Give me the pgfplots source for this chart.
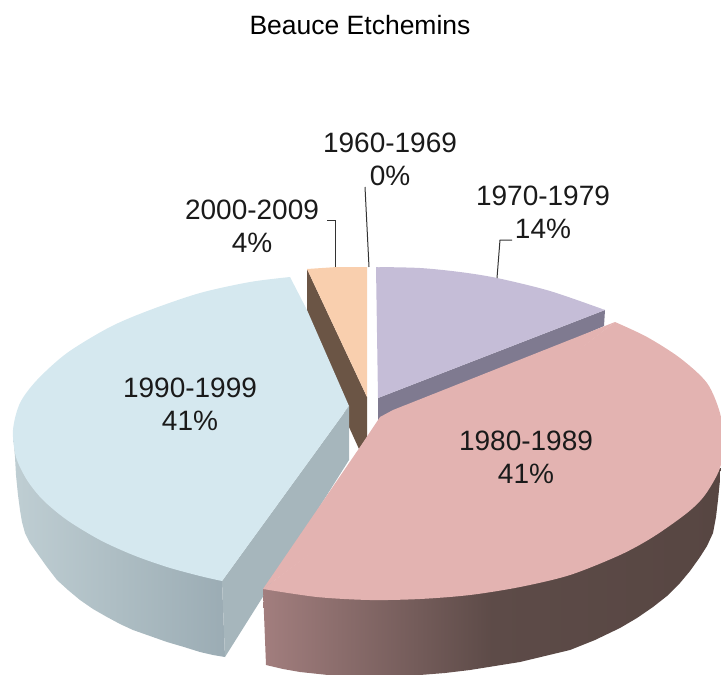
\documentclass[border=0pt]{standalone}
\usepackage{pgfplots}
\pgfplotsset{compat=1.18}
\usepackage{fontspec}
\setmainfont{Liberation Sans}
\definecolor{ptop}{HTML}{C5BDD7}
\definecolor{pside}{HTML}{7F7A90}
\definecolor{otop}{HTML}{F9CFAE}
\definecolor{oside}{HTML}{6B5545}
\definecolor{btop}{HTML}{D5E8EF}
\definecolor{bin}{HTML}{A6B6BC}
\definecolor{rtop}{HTML}{E3B3B1}
\definecolor{txt}{HTML}{1A1A1A}
\definecolor{BSa}{HTML}{BFCED3}
\definecolor{BSm}{HTML}{ADBDC3}
\definecolor{BSb}{HTML}{9BACB4}
\definecolor{RSa}{HTML}{A27E7E}
\definecolor{RSm}{HTML}{5D4B48}
\definecolor{RSb}{HTML}{574642}
\newcommand{\lab}{\fontsize{28}{33}\selectfont}
\begin{document}
\begin{tikzpicture}
\useasboundingbox (0,0) rectangle (721pt,675pt);
\begin{axis}[at={(0,0)},anchor=south west,scale only axis,width=721pt,height=675pt,
  xmin=0,xmax=721,ymin=0,ymax=675,y dir=reverse,hide axis,clip=true,
  every axis plot/.append style={line width=0pt,draw=none}]
% 1970-1979 side and top
\addplot[fill=pside] coordinates {(378,398)(605,310)(604,326)(378,425)} -- cycle;
\addplot[fill=ptop] coordinates {(378,398)(376,267)(490,283)(605,310)} -- cycle;
\addplot[fill=ptop,smooth] coordinates {(376,267)(420,268)(460,272)(497,278)(550,291)(605,310)};
% 2000-2009 side and top
\addplot[fill=oside] coordinates {(307,269)(367,397)(367,437)(359,449)(349,427)(307,312)} -- cycle;
\addplot[fill=otop] coordinates {(307,269)(337,267)(367,267)(367,397)} -- cycle;
% 1990-1999 side and top
\addplot[left color=BSa,right color=BSb,middle color=BSm] coordinates {(13,433)(14,445)(15,457)(16,475)(18,495)(20,510)(22,522)(25,533)(30,543)(37,553)(47,567)(57,580)(68,590)(80,600)(93,609)(107,617)(120,624)(133,630)(150,636)(167,642)(184,647)(200,652)(213,655)(225,657)(222,581)} -- cycle;
\addplot[fill=bin] coordinates {(222,581)(349,406)(349,460)(225,657)} -- cycle;
\addplot[fill=btop] coordinates {(290,277)(307,310)(349,406)(222,581)(150,430)} -- cycle;
\addplot[fill=btop,smooth] coordinates {(290,277)(250,282)(200,293)(150,310)(110,327)(67,353)(37,380)(20,403)(13,430)(16,457)(27,480)(43,500)(67,520)(100,540)(133,555)(167,567)(200,576)(222,581)};
% 1980-1989 side and top
\addplot[left color=RSa,right color=RSb,middle color=RSm] coordinates {(263,589)(266,665)(283,669)(300,672)(328,675)(357,676)(390,676)(420,675)(445,673)(470,670)(495,666)(520,662)(545,656)(570,650)(595,640)(620,628)(637,618)(653,607)(667,596)(680,583)(690,571)(700,557)(707,546)(713,533)(716,517)(718,500)(720,480)(721,468)} -- cycle;
\addplot[fill=rtop] coordinates {(615,322)(393,410)(380,417)(360,447)(263,589)(450,450)} -- cycle;
\addplot[fill=rtop,smooth] coordinates {(615,322)(647,337)(680,358)(707,383)(720,413)(723,440)(720,468)(705,495)(687,513)(653,537)(620,555)(570,575)(520,587)(470,595)(420,599)(370,600)(317,597)(263,589)};
% leader lines
\addplot[draw=black!80,line width=1pt] coordinates {(327,220)(335,220)(335,267)};
\addplot[draw=black!80,line width=1pt] coordinates {(365,187)(369,267)};
\addplot[draw=black!80,line width=1pt] coordinates {(512,240)(500,240)(497,278)};
% text
\node[font=\fontsize{26.5}{30}\selectfont,text=black] at (axis cs:360,25) {Beauce Etchemins};
\node[font=\lab,text=txt,align=center] at (axis cs:390,159) {1960-1969\\0\%};
\node[font=\lab,text=txt,align=center] at (axis cs:252,226) {2000-2009\\4\%};
\node[font=\lab,text=txt,align=center] at (axis cs:543,212) {1970-1979\\14\%};
\node[font=\lab,text=txt,align=center] at (axis cs:190,404) {1990-1999\\41\%};
\node[font=\lab,text=txt,align=center] at (axis cs:526,457) {1980-1989\\41\%};
\end{axis}
\end{tikzpicture}
\end{document}
